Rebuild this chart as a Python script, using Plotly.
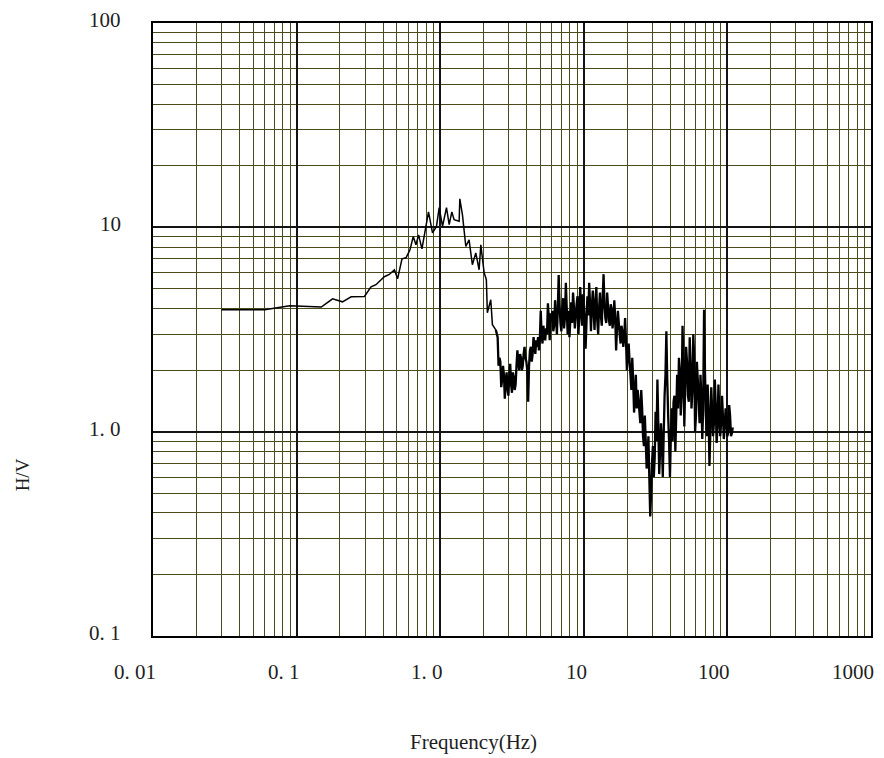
import plotly.graph_objects as go
import math

# H/V spectral ratio vs frequency (Hz), smooth low-frequency part
freq_low = [0.0300, 0.0600, 0.0894, 0.1485, 0.178, 0.2086, 0.2399, 0.2966, 0.330, 0.357,
            0.408, 0.442, 0.480, 0.505, 0.542, 0.578, 0.616, 0.649, 0.678, 0.707,
            0.746, 0.829, 0.884, 0.942, 0.984, 1.038, 1.106, 1.155, 1.205, 1.250,
            1.355, 1.370, 1.429, 1.508, 1.589, 1.675, 1.770, 1.866, 1.918, 2.023,
            2.096, 2.13, 2.25, 2.31, 2.44]
hv_low = [3.95, 3.95, 4.13, 4.07, 4.47, 4.32, 4.57, 4.59, 5.12, 5.24,
          5.73, 5.88, 6.20, 5.60, 7.01, 7.09, 7.76, 9.02, 8.21, 9.19,
          7.85, 11.9, 9.40, 10.1, 12.5, 10.1, 12.5, 10.3, 11.9, 10.9,
          10.7, 13.8, 11.5, 8.06, 8.69, 6.56, 7.50, 6.20, 8.21, 6.00,
          5.54, 3.82, 4.42, 3.34, 3.15]

# noisy part above 2.5 Hz: main samples
freq_a = [2.512, 2.585, 2.661, 2.739, 2.818, 2.901, 2.985, 3.073, 3.162, 3.255,
          3.350, 3.447, 3.548, 3.652, 3.758, 3.868, 3.981, 4.097, 4.217, 4.340,
          4.467, 4.597, 4.732, 4.870, 5.012, 5.158, 5.309, 5.464, 5.623, 5.788,
          5.957, 6.131, 6.310, 6.494, 6.683, 6.879, 7.079, 7.286, 7.499, 7.718,
          7.943, 8.175, 8.414, 8.660, 8.913, 9.173, 9.441, 9.716, 10.00, 10.29,
          10.59, 10.90, 11.22, 11.55, 11.88, 12.23, 12.59, 12.96, 13.34, 13.73,
          14.13, 14.54, 14.97, 15.40, 15.85, 16.31, 16.79, 17.28, 17.78, 18.30,
          18.84, 19.39, 19.95, 20.54, 21.13, 21.75, 22.39, 23.04, 23.71, 24.40,
          25.12, 25.85, 26.61, 27.39, 28.18, 29.01, 29.85, 30.73, 31.62, 32.55,
          33.50, 34.47, 35.48, 36.52, 37.58, 38.68, 39.81, 40.97, 42.17, 43.40,
          44.67, 45.97, 47.32, 48.70, 50.12, 51.58, 53.09, 54.64, 56.23, 57.88,
          59.57, 61.31, 63.10, 64.94, 66.83, 68.79, 70.79, 72.86, 74.99, 77.18,
          79.43, 81.75, 84.14, 86.60, 89.13, 91.73, 94.41, 97.16, 100.0, 102.9,
          105.9, 109.0]
hv_a = [2.9, 2.3, 1.65, 2.1, 1.45, 1.95, 1.5, 2.15, 1.55, 1.85,
        1.7, 2.5, 2.0, 2.3, 2.1, 2.6, 2.2, 1.4, 2.5, 2.2,
        2.9, 2.4, 2.6, 2.5, 3.9, 2.7, 2.95, 3.2, 4.25, 2.8,
        3.5, 3.1, 4.4, 3.0, 5.85, 3.4, 4.0, 3.2, 5.35, 3.0,
        2.9, 4.3, 4.8, 3.2, 4.2, 3.0, 5.1, 3.3, 4.3, 2.55,
        4.6, 5.35, 3.1, 4.9, 3.15, 5.1, 3.0, 4.8, 3.3, 5.9,
        3.6, 4.8, 3.5, 4.2, 3.2, 4.4, 2.5, 3.9, 3.0, 3.3,
        2.6, 3.6, 2.0, 2.7, 1.9, 2.3, 1.24, 1.9, 1.6, 1.25,
        1.6, 0.95, 1.2, 0.66, 0.95, 0.385, 0.7, 0.6, 1.25, 1.8,
        0.62, 1.1, 0.6, 1.5, 3.1, 1.2, 0.6, 1.3, 1.4, 0.8,
        1.9, 2.3, 1.2, 3.3, 1.06, 2.6, 1.5, 2.9, 1.3, 3.0,
        1.0, 2.2, 1.4, 1.9, 0.92, 3.95, 1.2, 1.7, 0.68, 1.65,
        0.95, 1.8, 0.88, 1.7, 0.95, 1.5, 0.92, 1.3, 0.95, 1.35,
        0.95, 1.05]

# noisy part: in-between samples
freq_b = [2.548, 2.623, 2.700, 2.779, 2.859, 2.943, 3.028, 3.118, 3.208, 3.302,
          3.399, 3.497, 3.600, 3.705, 3.812, 3.924, 4.039, 4.156, 4.278, 4.403,
          4.532, 4.664, 4.801, 4.940, 5.085, 5.233, 5.386, 5.543, 5.705, 5.872,
          6.043, 6.220, 6.402, 6.588, 6.780, 6.979, 7.182, 7.392, 7.608, 7.830,
          8.058, 8.293, 8.536, 8.786, 9.042, 9.306, 9.578, 9.857, 10.14, 10.44,
          10.74, 11.06, 11.38, 11.72, 12.05, 12.41, 12.77, 13.15, 13.53, 13.93,
          14.33, 14.75, 15.19, 15.62, 16.08, 16.55, 17.03, 17.53, 18.04, 18.57,
          19.11, 19.67, 20.24, 20.84, 21.44, 22.07, 22.71, 23.37, 24.05, 24.75,
          25.48, 26.22, 27.00, 27.79, 28.59, 29.43, 30.28, 31.18, 32.08, 33.02,
          33.99, 34.97, 35.99, 37.05, 38.12, 39.24, 40.39, 41.56, 42.78, 44.03,
          45.32, 46.64, 48.01, 49.41, 50.85, 52.33, 53.86, 55.43, 57.05, 58.72,
          60.43, 62.20, 64.01, 65.88, 67.80, 69.79, 71.82, 73.92, 76.08, 78.30,
          80.58, 82.94, 85.36, 87.86, 90.42, 93.06, 95.78, 98.57, 101.5, 104.4,
          107.4]
hv_b = [2.1, 2.2, 1.8, 1.9, 1.75, 1.6, 1.9, 1.7, 1.95, 1.6,
        2.1, 2.2, 2.4, 2.0, 2.4, 2.3, 2.0, 2.1, 2.6, 2.4,
        2.6, 2.8, 2.9, 2.8, 3.0, 3.3, 2.8, 3.0, 3.6, 3.8,
        3.9, 3.3, 3.7, 3.9, 4.2, 3.1, 4.5, 3.6, 4.0, 3.9,
        3.5, 3.4, 4.1, 3.6, 4.6, 3.7, 3.9, 4.7, 3.6, 3.4,
        3.7, 4.2, 4.1, 3.8, 4.4, 3.5, 4.0, 3.7, 4.5, 4.2,
        3.4, 4.1, 3.3, 4.0, 3.5, 3.6, 3.2, 3.4, 2.7, 3.1,
        2.9, 2.8, 2.4, 2.2, 1.6, 1.8, 1.5, 1.3, 1.45, 1.1,
        1.3, 0.85, 0.9, 0.75, 0.6, 0.5, 0.85, 0.75, 0.9, 1.1,
        0.8, 0.9, 0.95, 1.9, 1.8, 0.9, 0.95, 0.9, 1.5, 1.2,
        1.3, 2.0, 1.5, 2.2, 1.7, 2.2, 1.4, 2.1, 1.6, 2.3,
        1.2, 1.8, 1.1, 1.5, 1.3, 2.0, 0.95, 1.3, 1.0, 1.3,
        1.1, 1.35, 1.05, 1.25, 1.1, 1.2, 1.05, 1.15, 1.0, 1.2,
        0.98]

x_tick_vals = [0.01, 0.1, 1.0, 10, 100, 1000]
x_tick_text = ["0. 01", "0. 1", "1. 0", "10", "100", "1000"]
y_tick_vals = [0.1, 1.0, 10, 100]
y_tick_text = ["0. 1", "1. 0", "10", "100"]

FONT = "Liberation Serif"
TEXT = "#1e1e1e"
MAJOR = "#141414"
MINOR = "#4a4a1c"

# merge the two sample sets of the noisy part in frequency order
noisy = sorted(zip(freq_a + freq_b, hv_a + hv_b))
freq_noisy = [freq_low[-1]] + [p[0] for p in noisy]
hv_noisy = [hv_low[-1]] + [p[1] for p in noisy]

fig = go.Figure()
fig.add_trace(go.Scatter(
    x=freq_low, y=hv_low, mode="lines",
    line=dict(color="black", width=1.5, simplify=False),
    showlegend=False, hoverinfo="skip",
))
fig.add_trace(go.Scatter(
    x=freq_noisy, y=hv_noisy, mode="lines",
    line=dict(color="black", width=2.3, simplify=False),
    showlegend=False, hoverinfo="skip",
))

axis_common = dict(
    type="log",
    showticklabels=False,
    ticks="",
    dtick=1,
    showgrid=True,
    gridcolor=MAJOR,
    gridwidth=1.5,
    minor=dict(dtick="D1", showgrid=True, gridcolor=MINOR, gridwidth=1, ticks=""),
    showline=True,
    linecolor="black",
    linewidth=1.5,
    mirror=True,
    zeroline=False,
)
fig.update_xaxes(range=[-2, 3], **axis_common)
fig.update_yaxes(range=[-1, 2], **axis_common)

annotations = []
for v, t in zip(x_tick_vals, x_tick_text):
    annotations.append(dict(
        x=math.log10(v), y=-0.0587, xref="x", yref="paper",
        text=t, showarrow=False, xanchor="right", yanchor="middle", xshift=5,
        font=dict(family=FONT, size=21, color=TEXT),
    ))
for v, t in zip(y_tick_vals, y_tick_text):
    annotations.append(dict(
        x=-0.0417, y=math.log10(v), xref="paper", yref="y",
        text=t, showarrow=False, xanchor="right", yanchor="middle", yshift=3,
        font=dict(family=FONT, size=21, color=TEXT),
    ))
annotations.append(dict(
    x=0.4458, y=-0.1729, xref="paper", yref="paper",
    text="Frequency(Hz)", showarrow=False, xanchor="center", yanchor="middle",
    font=dict(family=FONT, size=21, color=TEXT),
))
annotations.append(dict(
    x=-0.182, y=0.2626, xref="paper", yref="paper",
    text="H/V", showarrow=False, xanchor="center", yanchor="middle", textangle=-90,
    font=dict(family=FONT, size=19, color=TEXT),
))

fig.update_layout(
    width=884, height=758,
    margin=dict(l=153, r=11, t=23, b=122, pad=0),
    plot_bgcolor="white", paper_bgcolor="white",
    annotations=annotations,
)

fig.write_html("out.html")
